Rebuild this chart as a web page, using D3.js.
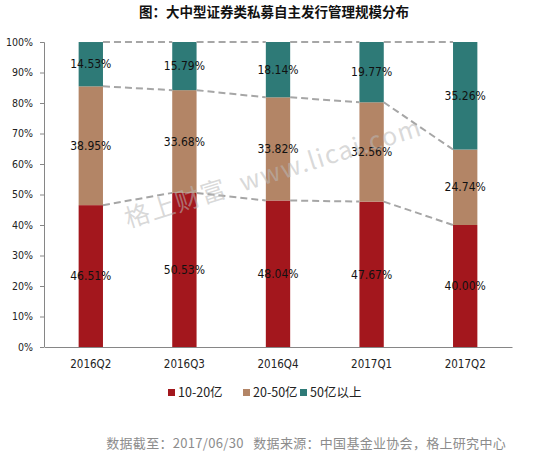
<!DOCTYPE html>
<html>
<head>
<meta charset="utf-8">
<script src="https://cdn.jsdelivr.net/npm/d3@7/dist/d3.min.js"></script>
<style>
  body { margin: 0; background: #fff; }
  svg { display: block; font-family: "Liberation Sans", "Noto Sans CJK SC", sans-serif; }
</style>
</head>
<body>
<svg id="chart" width="546" height="456"></svg>
<script>
const categories = ['2016Q2', '2016Q3', '2016Q4', '2017Q1', '2017Q2'];
const seriesNames = ['10-20亿', '20-50亿', '50亿以上'];
const small = [46.51, 50.53, 48.04, 47.67, 40.00];
const mid = [38.95, 33.68, 33.82, 32.56, 24.74];
const large = [14.53, 15.79, 18.14, 19.77, 35.26];
const yTicks = [0, 10, 20, 30, 40, 50, 60, 70, 80, 90, 100];
const colors = ['#a3171d', '#b38566', '#2e7a77'];

const svg = d3.select('#chart');
const margin = {left: 44, right: 34, top: 42, bottom: 109};
const width = 546 - margin.left - margin.right;
const height = 456 - margin.top - margin.bottom;
const numFont = '"DejaVu Sans Condensed", "Liberation Sans", sans-serif';
const cjkFont = '"Noto Sans CJK SC", sans-serif';

// title
svg.append('text')
    .attr('x', 274).attr('y', 17)
    .attr('text-anchor', 'middle')
    .style('font-family', cjkFont)
    .style('font-size', '13.5px').style('font-weight', 'bold')
    .attr('fill', '#111')
    .text('图：大中型证券类私募自主发行管理规模分布');

const g = svg.append('g').attr('transform', `translate(${margin.left},${margin.top})`);

const x = d3.scaleBand().domain(categories).range([0, width]).paddingInner(0.74).paddingOuter(0.37);
const y = d3.scaleLinear().domain([0, 100]).range([height, 0]);

// stack the rows
const rows = categories.map((c, i) => ({cat: c, s0: small[i], s1: mid[i], s2: large[i]}));
const stacked = d3.stack().keys(['s0', 's1', 's2'])(rows);

// y axis
const yAxis = g.append('g')
    .call(d3.axisLeft(y).tickValues(yTicks).tickSize(4).tickPadding(7).tickFormat(d => d + '%'));
yAxis.select('.domain').attr('stroke', '#868686').attr('d', `M-4,0.5H0.5V${height}`);
yAxis.selectAll('.tick line').attr('stroke', '#868686');
yAxis.selectAll('.tick text').style('font-size', '10.5px').attr('fill', '#222')
    .style('font-family', numFont);

// x axis
const xAxis = g.append('g').attr('transform', `translate(0,${height})`)
    .call(d3.axisBottom(x).tickSize(0).tickPadding(13));
xAxis.select('.domain').attr('stroke', '#868686');
xAxis.selectAll('.tick text').style('font-size', '11.5px').attr('fill', '#222')
    .style('font-family', numFont);

// bars
const layers = g.selectAll('.layer').data(stacked).enter()
    .append('g').attr('class', 'layer').attr('fill', (d, i) => colors[i]);
layers.selectAll('rect').data(d => d).enter().append('rect')
    .attr('x', d => x(d.data.cat))
    .attr('width', x.bandwidth())
    .attr('y', d => y(Math.min(d[1], 100)))
    .attr('height', d => y(d[0]) - y(Math.min(d[1], 100)));

// dashed series lines between bars
const lines = g.append('g');
stacked.forEach(layer => {
  for (let i = 0; i < layer.length - 1; i++) {
    const a = layer[i], b = layer[i + 1];
    lines.append('line')
        .attr('x1', x(a.data.cat) + x.bandwidth()).attr('y1', y(Math.min(a[1], 100)))
        .attr('x2', x(b.data.cat)).attr('y2', y(Math.min(b[1], 100)))
        .attr('stroke', '#a6a6a6').attr('stroke-width', 2)
        .attr('stroke-dasharray', '7,4');
  }
});

// value labels
stacked.forEach((layer, k) => {
  g.append('g').selectAll('text').data(layer).enter().append('text')
      .attr('x', d => x(d.data.cat) + x.bandwidth() / 2)
      .attr('y', d => y((d[0] + Math.min(d[1], 100)) / 2))
      .attr('dy', '0.35em')
      .attr('text-anchor', 'middle')
      .style('font-family', numFont)
      .style('font-size', '12px')
      .attr('fill', '#111')
      .text((d, i) => [small, mid, large][k][i].toFixed(2) + '%');
});

// watermark
svg.append('text')
    .attr('transform', 'translate(128,228) rotate(-17.5)')
    .style('font-family', cjkFont)
    .style('font-size', '25px')
    .style('letter-spacing', '1.5px')
    .style('white-space', 'pre')
    .attr('fill', 'rgba(185,185,185,0.55)')
    .text('格上财富  www.licai.com');

// legend
const legend = svg.append('g').attr('transform', 'translate(168,393)');
const legendX = [0, 75, 132];
seriesNames.forEach((name, i) => {
  const it = legend.append('g').attr('transform', `translate(${legendX[i]},0)`);
  it.append('rect').attr('x', 0).attr('y', -4).attr('width', 7).attr('height', 7).attr('fill', colors[i]);
  it.append('text').attr('x', 10).attr('y', 0).attr('dy', '0.35em')
      .style('font-family', cjkFont)
      .style('font-size', '12.5px').attr('fill', '#222').text(name);
});

// footer
svg.append('text')
    .attr('x', 506).attr('y', 448)
    .attr('text-anchor', 'end')
    .style('font-family', cjkFont)
    .style('font-size', '13px')
    .style('letter-spacing', '0.3px')
    .style('white-space', 'pre')
    .attr('fill', '#8c8c8c')
    .text('数据截至：2017/06/30   数据来源：中国基金业协会，格上研究中心');
</script>
</body>
</html>
